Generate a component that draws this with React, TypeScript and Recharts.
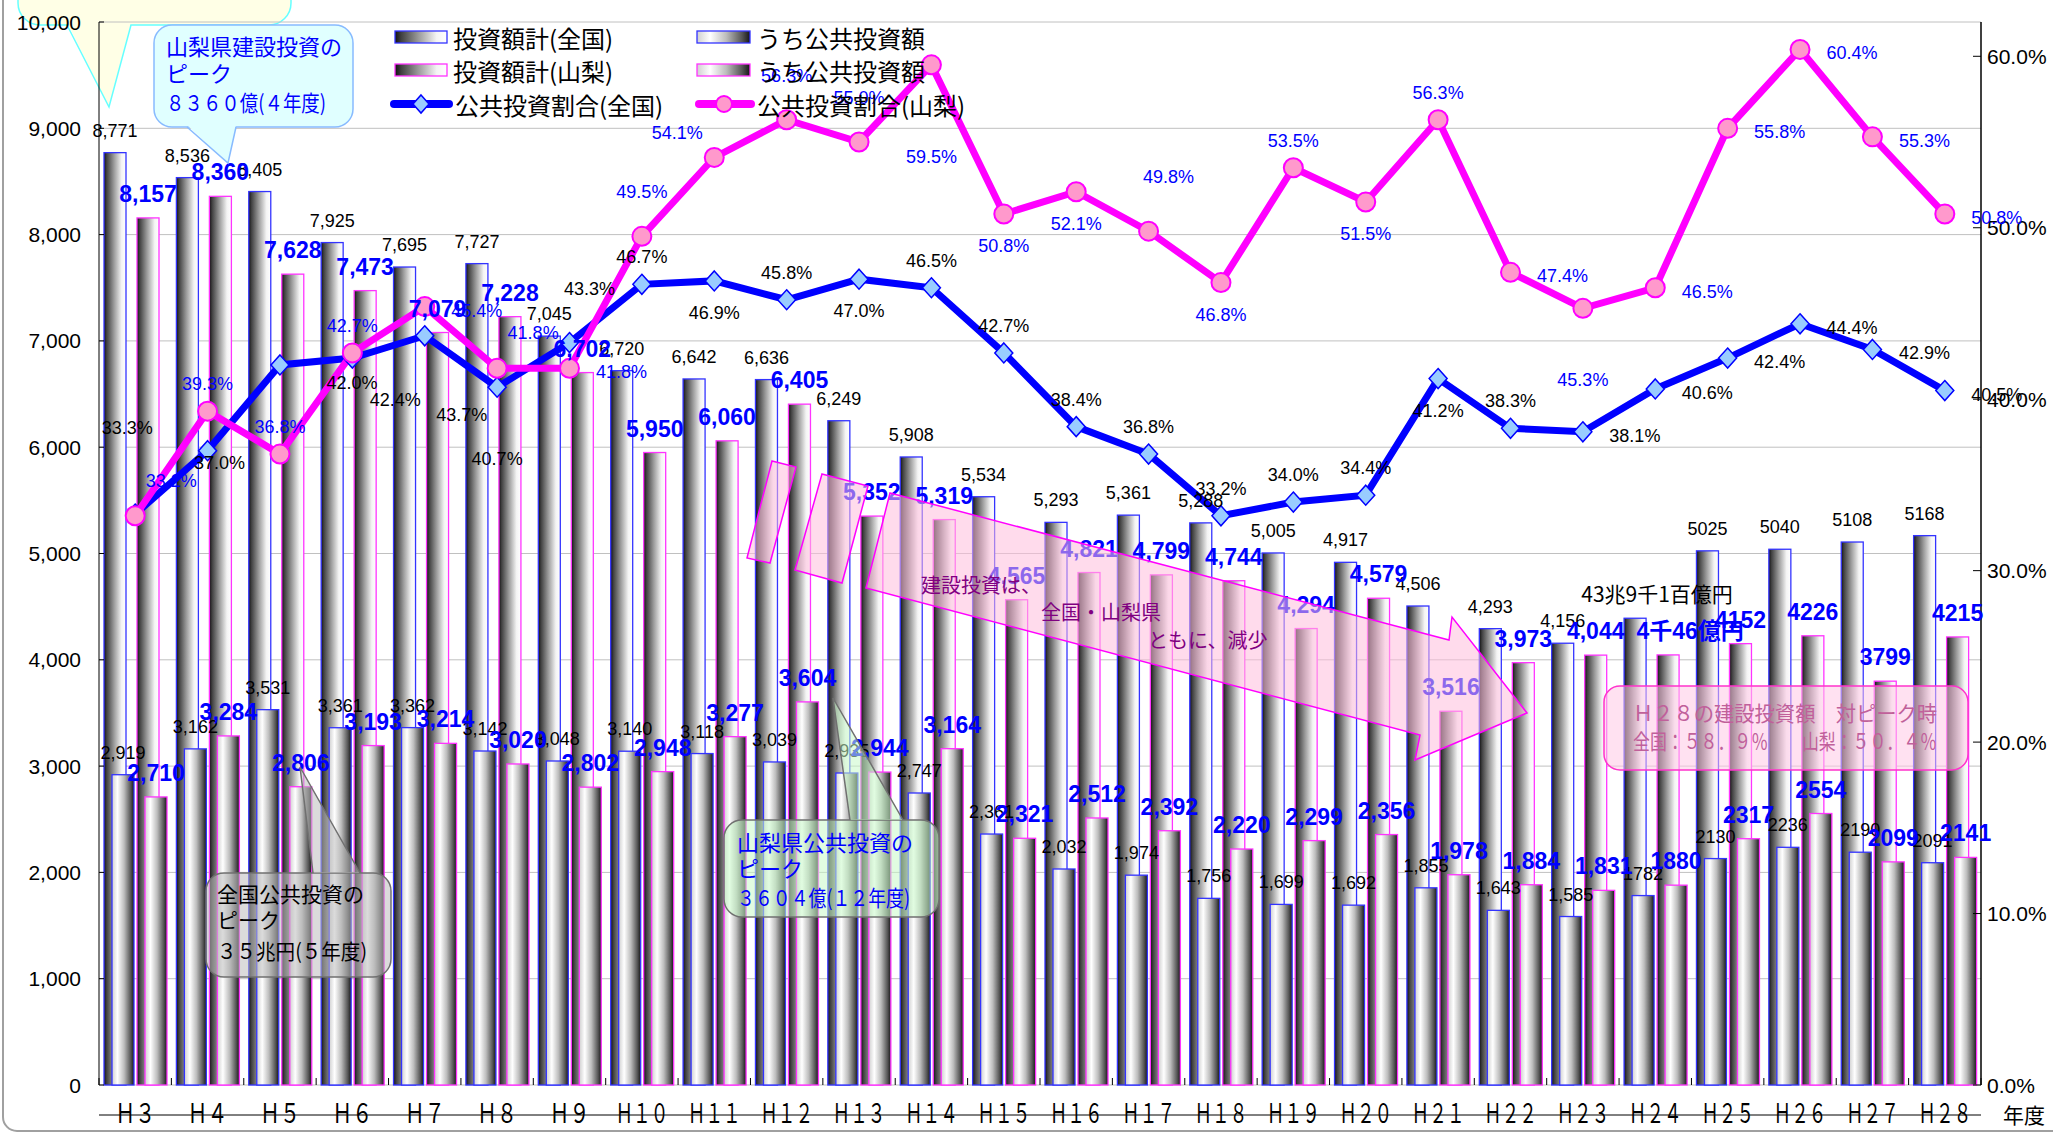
import React from 'react';
import { ComposedChart, Bar, Line, XAxis, YAxis, CartesianGrid, LabelList } from 'recharts';

const W = 2053;
const H = 1136;
const PLOT_L = 99;
const PLOT_R = 1981;
const PLOT_B = 1085;

const SANS = '"Liberation Sans", Arial, "Noto Sans CJK JP", sans-serif';
const NARROW = '"Liberation Sans Narrow", "Liberation Sans", Arial, "Noto Sans CJK JP", sans-serif';
const CJK = '"Noto Sans CJK JP", "Liberation Sans", sans-serif';

const categories = [
  'Ｈ３', 'Ｈ４', 'Ｈ５', 'Ｈ６', 'Ｈ７', 'Ｈ８', 'Ｈ９', 'Ｈ１０', 'Ｈ１１', 'Ｈ１２', 'Ｈ１３', 'Ｈ１４', 'Ｈ１５',
  'Ｈ１６', 'Ｈ１７', 'Ｈ１８', 'Ｈ１９', 'Ｈ２０', 'Ｈ２１', 'Ｈ２２', 'Ｈ２３', 'Ｈ２４', 'Ｈ２５', 'Ｈ２６', 'Ｈ２７', 'Ｈ２８',
];
// 投資額計(全国)
const nationalTotal = [8771, 8536, 8405, 7925, 7695, 7727, 7045, 6720, 6642, 6636, 6249, 5908, 5534, 5293, 5361, 5288, 5005, 4917, 4506, 4293, 4156, 4391, 5025, 5040, 5108, 5168];
// 投資額計(山梨)
const yamanashiTotal = [8157, 8360, 7628, 7473, 7079, 7228, 6702, 5950, 6060, 6405, 5352, 5319, 4565, 4821, 4799, 4744, 4294, 4579, 3516, 3973, 4044, 4046, 4152, 4226, 3799, 4215];
// うち公共投資額(全国)
const nationalPublic = [2919, 3162, 3531, 3361, 3362, 3142, 3048, 3140, 3118, 3039, 2935, 2747, 2361, 2032, 1974, 1756, 1699, 1692, 1855, 1643, 1585, 1782, 2130, 2236, 2190, 2091];
// うち公共投資額(山梨)
const yamanashiPublic = [2710, 3284, 2806, 3193, 3214, 3020, 2802, 2948, 3277, 3604, 2944, 3164, 2321, 2512, 2392, 2220, 2299, 2356, 1978, 1884, 1831, 1880, 2317, 2554, 2099, 2141];
// 公共投資割合 (%)
const nationalRatio = [33.3, 37.0, 42.0, 42.4, 43.7, 40.7, 43.3, 46.7, 46.9, 45.8, 47.0, 46.5, 42.7, 38.4, 36.8, 33.2, 34.0, 34.4, 41.2, 38.3, 38.1, 40.6, 42.4, 44.4, 42.9, 40.5];
const yamanashiRatio = [33.2, 39.3, 36.8, 42.7, 45.4, 41.8, 41.8, 49.5, 54.1, 56.3, 55.0, 59.5, 50.8, 52.1, 49.8, 46.8, 53.5, 51.5, 56.3, 47.4, 45.3, 46.5, 55.8, 60.4, 55.3, 50.8];

const leftTicks = [0, 1000, 2000, 3000, 4000, 5000, 6000, 7000, 8000, 9000, 10000];
const rightTicks = [0, 10, 20, 30, 40, 50, 60];

// special label texts (H24)
const natTotalNotes: Record<number, string> = { 21: '43兆9千1百億円' };
const yamTotalNotes: Record<number, string> = { 21: '4千46億円' };

// label placements for the ratio lines
const OFFS: Record<string, [number, number]> = {
  a: [0, -27], aa: [0, -44], b: [0, 32], bb: [0, 72], bbb: [0, 92],
  r: [52, 4], r2: [72, 18], ra: [36, -35], rb: [43, 42], rbb: [37, 79],
  raa: [20, -54], al: [-37, -24], lo: [12, 12], far: [-8, -86],
};
const natPlace = ['far', 'lo', 'r2', 'rb', 'rbb', 'bb', 'raa', 'a', 'b', 'a', 'b', 'a', 'a', 'a', 'a', 'a', 'a', 'a', 'b', 'a', 'r', 'r', 'r', 'r', 'r', 'r'];
const yamPlace = ['ra', 'a', 'a', 'a', 'r', 'ra', 'r', 'aa', 'al', 'aa', 'aa', 'bbb', 'b', 'b', 'raa', 'b', 'a', 'b', 'a', 'r', 'bb', 'r', 'r', 'r', 'r', 'r'];

const data = categories.map((cat, i) => ({
  cat,
  natTotal: nationalTotal[i],
  yamTotal: yamanashiTotal[i],
  natPublic: nationalPublic[i],
  yamPublic: yamanashiPublic[i],
  natRatio: nationalRatio[i],
  yamRatio: yamanashiRatio[i],
}));

const BAND = (PLOT_R - PLOT_L) / categories.length;

const fmt = (v: number, i: number) => (i >= 21 ? String(v) : v.toLocaleString('en-US'));

const shiftedBar = (dx: number, fill: string, stroke: string) => (props: any) => {
  const { x, y, width, height } = props;
  if (!height || height <= 0) return <g />;
  return <rect x={x + dx} y={y} width={width} height={height} fill={fill} stroke={stroke} strokeWidth={1.3} />;
};

function barLabel(dx: number, blue: boolean, notes: Record<number, string> = {}) {
  return (props: any) => {
    const vb = props.viewBox || {};
    const x = props.x ?? vb.x;
    const y = props.y ?? vb.y;
    const w = props.width ?? vb.width;
    const i = props.index;
    const note = notes[i];
    const txt = note ?? fmt(Number(props.value), i);
    return (
      <text
        x={x + w / 2 + dx + (note ? 22 : 0)}
        y={y - 16}
        textAnchor="middle"
        fontSize={note && !blue ? 21 : blue ? 23 : 18}
        fontWeight={blue ? 'bold' : 'normal'}
        fontFamily={note && !blue ? CJK : blue ? NARROW : SANS}
        fill={blue ? '#0000ff' : '#000'}
      >
        {txt}
      </text>
    );
  };
}

function lineLabel(places: string[], color: string) {
  return (props: any) => {
    const x = props.x ?? props.viewBox?.x;
    const y = props.y ?? props.viewBox?.y;
    const [dx, dy] = OFFS[places[props.index]] || [0, -27];
    return (
      <text x={x + dx} y={y + dy} textAnchor="middle" dominantBaseline="central" fontSize={18} fontFamily={SANS} fill={color}>
        {Number(props.value).toFixed(1)}%
      </text>
    );
  };
}

const diamondDot = (props: any) => {
  const { cx, cy, index } = props;
  return (
    <polygon
      key={`d${index}`}
      points={`${cx},${cy - 10} ${cx + 9},${cy} ${cx},${cy + 10} ${cx - 9},${cy}`}
      fill="#99ccff"
      stroke="#0000ff"
      strokeWidth={1.5}
    />
  );
};

const circleDot = (props: any) => {
  const { cx, cy, index } = props;
  return <circle key={`c${index}`} cx={cx} cy={cy} r={9.5} fill="#ff99cc" stroke="#ff00ff" strokeWidth={2} />;
};

const XTick = (props: any) => {
  const { x, payload } = props;
  const label = String(payload.value);
  return (
    <g>
      <line x1={x - BAND / 2} x2={x - BAND / 2} y1={PLOT_B} y2={PLOT_B - 7} stroke="#000" />
      {payload.index === categories.length - 1 && (
        <line x1={x + BAND / 2} x2={x + BAND / 2} y1={PLOT_B} y2={PLOT_B - 7} stroke="#000" />
      )}
      <text
        x={x}
        y={1123}
        textAnchor="middle"
        fontSize={27}
        fontFamily={CJK}
        textLength={label.length === 2 ? 40 : 53}
        lengthAdjust="spacingAndGlyphs"
        fill="#000"
      >
        {label}
      </text>
    </g>
  );
};

const LeftTick = (props: any) => {
  const { y, payload } = props;
  return (
    <g>
      <line x1={PLOT_L} x2={PLOT_L + 5} y1={y} y2={y} stroke="#000" />
      <text x={81} y={y} textAnchor="end" dominantBaseline="central" fontSize={21} fontFamily={SANS} fill="#000">
        {Number(payload.value).toLocaleString('en-US')}
      </text>
    </g>
  );
};

const RightTick = (props: any) => {
  const { y, payload } = props;
  return (
    <g>
      <line x1={PLOT_R - 8} x2={PLOT_R} y1={y} y2={y} stroke="#000" />
      <text x={1987} y={y} dominantBaseline="central" fontSize={21} fontFamily={SANS} fill="#000">
        {Number(payload.value).toFixed(1)}%
      </text>
    </g>
  );
};

function Callout({ box, ptr, fill, stroke }: { box: [number, number, number, number]; ptr: [number, number][]; fill: string; stroke: string }) {
  const [x, y, w, h] = box;
  const pts = ptr.map((p) => p.join(',')).join(' ');
  return (
    <g>
      <rect x={x} y={y} width={w} height={h} rx={18} fill={fill} stroke={stroke} strokeWidth={1.5} />
      <polygon points={pts} fill={fill} stroke="none" />
      <polyline points={pts} fill="none" stroke={stroke} strokeWidth={1.5} />
    </g>
  );
}

// drawn behind the chart: the callout at the top-left corner
function Underlay() {
  return (
    <svg width={W} height={H} style={{ position: 'absolute', left: 0, top: 0, pointerEvents: 'none' }}>
      <rect x={3} y={-30} width={2120} height={1161} rx={14} fill="none" stroke="#a0a0a0" strokeWidth={2} />
      <rect x={18} y={-60} width={273} height={85} rx={22} fill="#ffffe6" stroke="#66ffff" strokeWidth={1.5} />
      <polygon points="67,22 109,107 131,22" fill="#ffffe6" />
      <polyline points="67,25 109,107 131,25" fill="none" stroke="#66ffff" strokeWidth={1.5} />
    </svg>
  );
}

function Overlay() {
  const pinkFill = 'rgba(255,190,220,0.55)';
  return (
    <svg width={W} height={H} style={{ position: 'absolute', left: 0, top: 0, pointerEvents: 'none' }}>
      {/* 山梨県建設投資のピーク */}
      <rect x={154} y={25} width={199} height={102} rx={18} fill="#e0ffff" stroke="#88bbff" strokeWidth={1.5} />
      <polygon points="187,125 228,163 236,125" fill="#e0ffff" />
      <polyline points="187,127 228,163 236,127" fill="none" stroke="#88bbff" strokeWidth={1.5} />
      <g fontFamily={CJK} fontSize={22} fill="#0000ff">
        <text x={166} y={55}>山梨県建設投資の</text>
        <text x={166} y={82}>ピーク</text>
        <text x={166} y={111} textLength={160} lengthAdjust="spacingAndGlyphs">８３６０億(４年度)</text>
      </g>

      {/* 全国公共投資のピーク */}
      <Callout box={[206, 873, 185, 104]} ptr={[[313, 873], [300, 767], [360, 873]]} fill="rgba(190,190,190,0.55)" stroke="#707070" />
      <g fontFamily={CJK} fontSize={21} fill="#000">
        <text x={217} y={902}>全国公共投資の</text>
        <text x={217} y={928}>ピーク</text>
        <text x={217} y={959} textLength={150} lengthAdjust="spacingAndGlyphs">３５兆円(５年度)</text>
      </g>

      {/* 山梨県公共投資のピーク */}
      <Callout box={[724, 820, 215, 97]} ptr={[[850, 820], [833, 698], [903, 820]]} fill="rgba(200,250,200,0.55)" stroke="#707070" />
      <g fontFamily={CJK} fontSize={22} fill="#0000ff">
        <text x={737} y={851}>山梨県公共投資の</text>
        <text x={737} y={877}>ピーク</text>
        <text x={737} y={906} textLength={173} lengthAdjust="spacingAndGlyphs">３６０４億(１２年度)</text>
      </g>

      {/* downward arrow */}
      <polygon points="772,461 796,467 770,563 747,558" fill={pinkFill} stroke="#ff00ff" strokeWidth={1.5} />
      <polygon points="822,474 868,486 842,583 795,570" fill={pinkFill} stroke="#ff00ff" strokeWidth={1.5} />
      <polygon
        points="890,493 1449,640 1452,617 1527,713 1415,760 1420,735 866,588"
        fill={pinkFill}
        stroke="#ff00ff"
        strokeWidth={1.5}
      />
      <g fontFamily={CJK} fontSize={20} fill="#800080">
        <text x={921} y={593}>建設投資は、</text>
        <text x={1041} y={620}>全国・山梨県</text>
        <text x={1148} y={648}>ともに、減少</text>
      </g>

      {/* H28 box */}
      <rect x={1604} y={686} width={364} height={84} rx={16} fill="rgba(255,200,230,0.55)" stroke="#ff33cc" strokeWidth={1.5} />
      <g fontFamily={CJK} fontSize={21} fill="#c0609a">
        <text x={1633} y={721} textLength={304} lengthAdjust="spacingAndGlyphs">Ｈ２８の建設投資額　対ピーク時</text>
        <text x={1633} y={749} textLength={304} lengthAdjust="spacingAndGlyphs">全国：５８．９％　　山梨：５０．４％</text>
      </g>

      {/* legend */}
      <g fontFamily={CJK} fontSize={24} fill="#000">
        <rect x={395} y={31} width={52} height={12} fill="url(#gTall)" stroke="#3333ff" strokeWidth={1.3} />
        <text x={453} y={37} dominantBaseline="central">投資額計(全国)</text>
        <rect x={697} y={31} width={53} height={12} fill="url(#gShort)" stroke="#3333ff" strokeWidth={1.3} />
        <text x={757} y={37} dominantBaseline="central">うち公共投資額</text>

        <rect x={395} y={64} width={52} height={12} fill="url(#gTall)" stroke="#ff33ff" strokeWidth={1.3} />
        <text x={453} y={70} dominantBaseline="central">投資額計(山梨)</text>
        <rect x={697} y={64} width={53} height={12} fill="url(#gShort)" stroke="#ff33ff" strokeWidth={1.3} />
        <text x={757} y={70} dominantBaseline="central">うち公共投資額</text>

        <line x1={394} x2={449} y1={104} y2={104} stroke="#0000ff" strokeWidth={8} strokeLinecap="round" />
        <polygon points="421,95 429,104 421,113 413,104" fill="#99ccff" stroke="#0000ff" strokeWidth={1.5} />
        <text x={455} y={104} dominantBaseline="central">公共投資割合(全国)</text>
        <line x1={699} x2={751} y1={104} y2={104} stroke="#ff00ff" strokeWidth={8} strokeLinecap="round" />
        <circle cx={724} cy={104} r={8} fill="#ff99cc" stroke="#ff00ff" strokeWidth={2} />
        <text x={757} y={104} dominantBaseline="central">公共投資割合(山梨)</text>
      </g>

      <text x={2003} y={1123} fontFamily={CJK} fontSize={21} fill="#000">年度</text>
    </svg>
  );
}

export default function App() {
  return (
    <div style={{ position: 'absolute', left: 0, top: 0, width: W, height: H, background: '#fff', overflow: 'hidden', fontFamily: SANS }}>
      <svg width={0} height={0} style={{ position: 'absolute' }}>
        <defs>
          <linearGradient id="gTall" x1="0" x2="1" y1="0" y2="0">
            <stop offset="0" stopColor="#101010" />
            <stop offset="0.12" stopColor="#404040" />
            <stop offset="0.45" stopColor="#9a9a9a" />
            <stop offset="0.8" stopColor="#f4f4f4" />
            <stop offset="1" stopColor="#ffffff" />
          </linearGradient>
          <linearGradient id="gShort" x1="0" x2="1" y1="0" y2="0">
            <stop offset="0" stopColor="#d0d0d0" />
            <stop offset="0.25" stopColor="#ffffff" />
            <stop offset="0.55" stopColor="#bdbdbd" />
            <stop offset="0.85" stopColor="#555555" />
            <stop offset="1" stopColor="#151515" />
          </linearGradient>
        </defs>
      </svg>
      <Underlay />
      <ComposedChart width={W} height={H} data={data} margin={{ top: 22, right: 0, bottom: 0, left: 0 }} barGap={11}>
        <CartesianGrid xAxisId="t" yAxisId="l" horizontal vertical={false} stroke="#c0c0c0" />
        <XAxis xAxisId="t" dataKey="cat" type="category" interval={0} height={51} tick={<XTick />} tickLine={false} axisLine={{ stroke: '#000' }} />
        <XAxis xAxisId="p" dataKey="cat" type="category" hide />
        <YAxis yAxisId="l" domain={[0, 10000]} ticks={leftTicks} width={99} tick={<LeftTick />} tickLine={false} axisLine={{ stroke: '#000' }} interval={0} />
        <YAxis yAxisId="r" orientation="right" domain={[0, 62]} ticks={rightTicks} width={72} tick={<RightTick />} tickLine={false} axisLine={{ stroke: '#000', strokeWidth: 1.5 }} interval={0} />

        <Bar xAxisId="t" yAxisId="l" dataKey="natTotal" barSize={22} isAnimationActive={false} shape={shiftedBar(-4, 'url(#gTall)', '#3333ff')}>
          <LabelList dataKey="natTotal" content={barLabel(-4, false, natTotalNotes)} />
        </Bar>
        <Bar xAxisId="t" yAxisId="l" dataKey="yamTotal" barSize={22} isAnimationActive={false} shape={shiftedBar(-4, 'url(#gTall)', '#ff33ff')}>
          <LabelList dataKey="yamTotal" content={barLabel(-4, true, yamTotalNotes)} />
        </Bar>
        <Bar xAxisId="p" yAxisId="l" dataKey="natPublic" barSize={22} isAnimationActive={false} shape={shiftedBar(4, 'url(#gShort)', '#3333ff')}>
          <LabelList dataKey="natPublic" content={barLabel(4, false)} />
        </Bar>
        <Bar xAxisId="p" yAxisId="l" dataKey="yamPublic" barSize={22} isAnimationActive={false} shape={shiftedBar(4, 'url(#gShort)', '#ff33ff')}>
          <LabelList dataKey="yamPublic" content={barLabel(4, true)} />
        </Bar>

        <Line xAxisId="t" yAxisId="r" dataKey="natRatio" stroke="#0000ff" strokeWidth={7} dot={diamondDot} activeDot={false} isAnimationActive={false}>
          <LabelList dataKey="natRatio" content={lineLabel(natPlace, '#000')} />
        </Line>
        <Line xAxisId="t" yAxisId="r" dataKey="yamRatio" stroke="#ff00ff" strokeWidth={7} dot={circleDot} activeDot={false} isAnimationActive={false}>
          <LabelList dataKey="yamRatio" content={lineLabel(yamPlace, '#0000ff')} />
        </Line>
      </ComposedChart>
      <Overlay />
    </div>
  );
}
